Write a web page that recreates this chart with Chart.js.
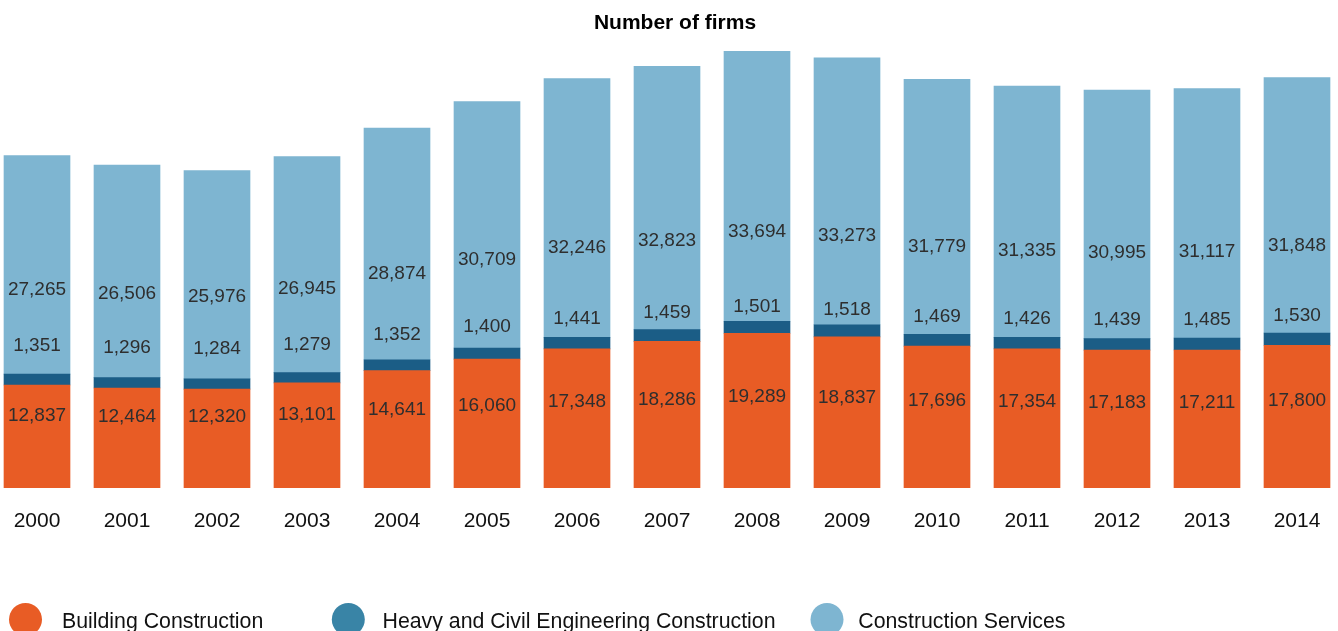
<!DOCTYPE html>
<html lang="en">
<head>
  <meta charset="UTF-8">
  <title>Number of firms</title>
  <script src="https://cdn.jsdelivr.net/npm/chart.js"></script>
  <style>
    * {
      margin: 0;
      padding: 0;
      box-sizing: border-box;
    }

    body {
      position: relative;
      width: 1338px;
      height: 631px;
      overflow: hidden;
      background: #fff;
    }

    /* canvas sits slightly left so the first bar lands near the edge */
    .chart-wrap {
      position: absolute;
      left: -8px;
      top: 0;
      width: 1350px;
      height: 631px;
    }
  </style>
</head>
<body>
  <div class="chart-wrap">
    <canvas id="firmsChart" width="1350" height="631"></canvas>
  </div>

  <script>
    const years = ['2000', '2001', '2002', '2003', '2004', '2005', '2006', '2007',
                   '2008', '2009', '2010', '2011', '2012', '2013', '2014'];
    const building = [12837, 12464, 12320, 13101, 14641, 16060, 17348, 18286,
                      19289, 18837, 17696, 17354, 17183, 17211, 17800];
    const heavyCivil = [1351, 1296, 1284, 1279, 1352, 1400, 1441, 1459,
                        1501, 1518, 1469, 1426, 1439, 1485, 1530];
    const services = [27265, 26506, 25976, 26945, 28874, 30709, 32246, 32823,
                      33694, 33273, 31779, 31335, 30995, 31117, 31848];
    const seriesNames = ['Building Construction', 'Heavy and Civil Engineering Construction', 'Construction Services'];

    const barColors = ['#e85c25', '#1b5d86', '#7eb5d1'];
    const legendColors = ['#e85c25', '#3984a6', '#7eb5d1'];
    const FONT = '"Liberation Sans", Arial, Helvetica, sans-serif';
    const SHIFT = 8; // page x -> canvas x

    const totals = years.map((_, i) => building[i] + heavyCivil[i] + services[i]);
    const fmt = new Intl.NumberFormat('en-US');

    // value labels, title, year labels and legend
    const textPlugin = {
      id: 'textLayer',
      afterDatasetsDraw(chart) {
        const ctx = chart.ctx;
        const y = chart.scales.y;
        const x = chart.scales.x;
        ctx.save();

        // segment labels, pulled toward the middle of the bars
        const pivot = 17143, squeeze = 0.734;
        ctx.font = '19px ' + FONT;
        ctx.fillStyle = '#2e2e2e';
        ctx.textAlign = 'center';
        ctx.textBaseline = 'alphabetic';
        chart.data.datasets.forEach((ds, d) => {
          const meta = chart.getDatasetMeta(d);
          meta.data.forEach((bar, i) => {
            let base = 0;
            for (let k = 0; k < d; k++) base += chart.data.datasets[k].data[i];
            const mid = base + ds.data[i] / 2;
            const at = pivot + squeeze * (mid - pivot);
            let py = y.getPixelForValue(at) + 7;
            if (d === 1) py -= 28;
            ctx.fillText(fmt.format(ds.data[i]), bar.x, py);
          });
        });

        // year labels
        ctx.font = '21px ' + FONT;
        ctx.fillStyle = '#111';
        years.forEach((yr, i) => {
          ctx.fillText(yr, x.getPixelForValue(i), 527);
        });

        // title
        ctx.font = 'bold 21px ' + FONT;
        ctx.fillStyle = '#000';
        ctx.fillText('Number of firms', 675 + SHIFT, 29);

        // legend
        const legendX = [[25.5, 62], [348.3, 382.5], [827, 858.3]];
        ctx.font = '21.3px ' + FONT;
        ctx.textAlign = 'left';
        seriesNames.forEach((name, i) => {
          ctx.fillStyle = legendColors[i];
          ctx.beginPath();
          ctx.arc(legendX[i][0] + SHIFT, 619.5, 16.5, 0, Math.PI * 2);
          ctx.fill();
          ctx.fillStyle = '#111';
          ctx.fillText(name, legendX[i][1] + SHIFT, 628);
        });

        ctx.restore();
      }
    };

    new Chart(document.getElementById('firmsChart'), {
      type: 'bar',
      data: {
        labels: years,
        datasets: [
          { label: seriesNames[0], data: building, backgroundColor: barColors[0] },
          { label: seriesNames[1], data: heavyCivil, backgroundColor: barColors[1] },
          { label: seriesNames[2], data: services, backgroundColor: barColors[2] }
        ]
      },
      options: {
        responsive: false,
        animation: false,
        devicePixelRatio: 1,
        barThickness: 66,
        layout: { padding: { top: 51, bottom: 143, left: 0, right: 0 } },
        plugins: {
          legend: { display: false },
          title: { display: false },
          tooltip: { enabled: false }
        },
        scales: {
          x: { stacked: true, display: false },
          y: { stacked: true, display: false, min: 0, max: Math.max(...totals) }
        }
      },
      plugins: [textPlugin]
    });
  </script>
</body>
</html>
